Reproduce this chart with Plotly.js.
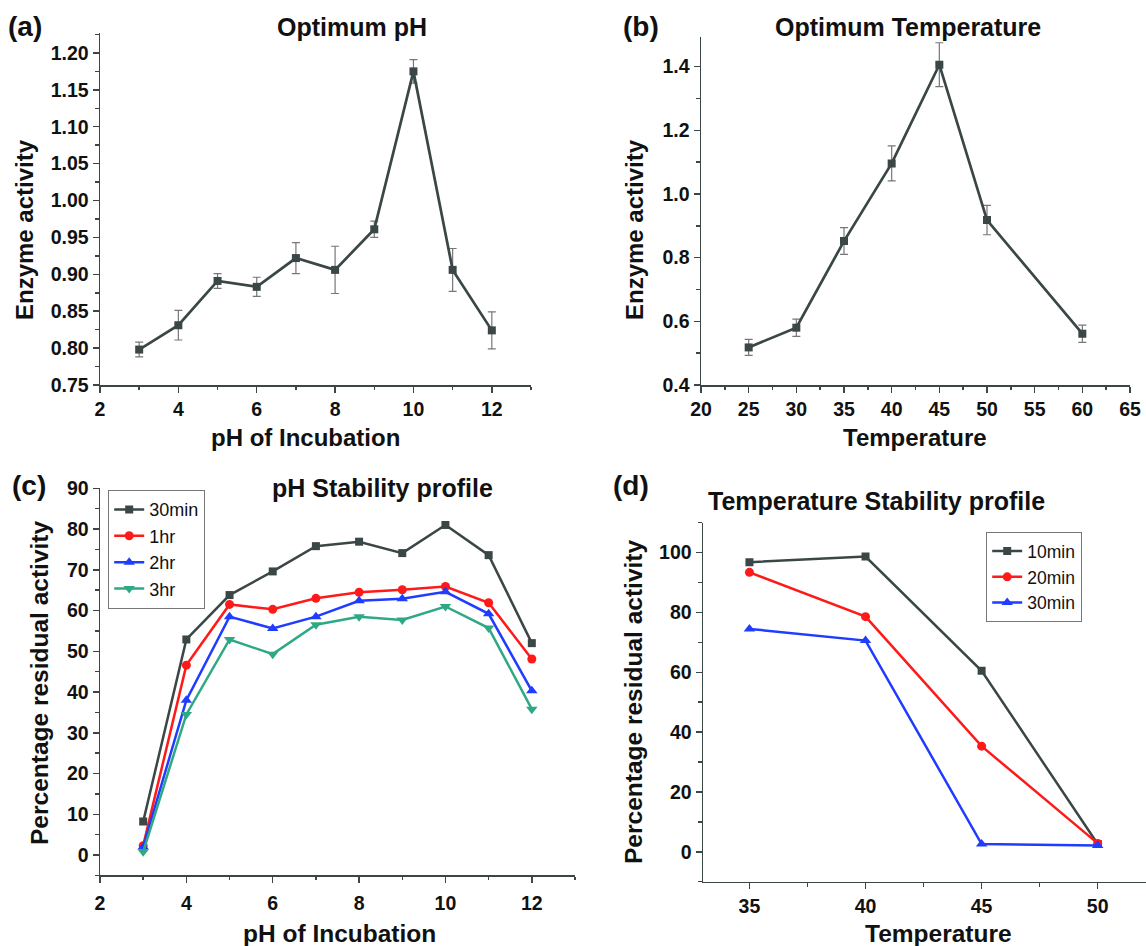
<!DOCTYPE html>
<html>
<head>
<meta charset="utf-8">
<script src="https://cdn.plot.ly/plotly-3.0.1.min.js"></script>
<style>html,body{margin:0;padding:0;background:#fff;}#chart{width:1146px;height:946px;}</style>
</head>
<body>
<div id="chart"></div>
<script>
// ---- Data ----
const phA = [3, 4, 5, 6, 7, 8, 9, 10, 11, 12];
const actA = [0.798, 0.831, 0.891, 0.883, 0.922, 0.906, 0.961, 1.175, 0.906, 0.824];
const errA = [0.010, 0.020, 0.010, 0.013, 0.021, 0.032, 0.011, 0.016, 0.029, 0.025];

const tempB = [25, 30, 35, 40, 45, 50, 60];
const actB = [0.518, 0.580, 0.852, 1.096, 1.406, 0.918, 0.561];
const errB = [0.025, 0.027, 0.042, 0.055, 0.069, 0.046, 0.027];

const phC = [3, 4, 5, 6, 7, 8, 9, 10, 11, 12];
const c30min = [8.2, 52.9, 63.8, 69.6, 75.8, 76.9, 74.1, 81.0, 73.6, 52.0];
const c1hr = [2.3, 46.6, 61.5, 60.3, 63.0, 64.5, 65.1, 65.9, 61.9, 48.1];
const c2hr = [2.0, 38.0, 58.5, 55.6, 58.5, 62.4, 62.9, 64.6, 59.2, 40.3];
const c3hr = [0.8, 34.5, 52.9, 49.3, 56.5, 58.5, 57.7, 61.0, 55.7, 35.8];
const seriesC = ['30min', '1hr', '2hr', '3hr'];

const tempD = [35, 40, 45, 50];
const d10min = [96.8, 98.7, 60.5, 2.6];
const d20min = [93.4, 78.6, 35.3, 2.8];
const d30min = [74.5, 70.6, 2.6, 2.1];
const seriesD = ['10min', '20min', '30min'];

// ---- Styles ----
const DARK = '#3b4646';
const RED = '#ff1a1a';
const BLUE = '#1f3cff';
const GREEN = '#2fa985';
const W = 1146, H = 946;
const px = v => v / W;
const py = v => 1 - v / H;

const traces = [
  {x: phA, y: actA, xaxis: 'x', yaxis: 'y', type: 'scatter', mode: 'lines+markers', showlegend: false,
   line: {color: DARK, width: 2.7}, marker: {symbol: 'square', size: 8, color: DARK},
   error_y: {type: 'data', array: errA, visible: true, color: '#777', thickness: 1.2, width: 4}},
  {x: tempB, y: actB, xaxis: 'x2', yaxis: 'y2', type: 'scatter', mode: 'lines+markers', showlegend: false,
   line: {color: DARK, width: 2.7}, marker: {symbol: 'square', size: 8, color: DARK},
   error_y: {type: 'data', array: errB, visible: true, color: '#777', thickness: 1.2, width: 4}},
  {x: phC, y: c30min, name: seriesC[0], xaxis: 'x3', yaxis: 'y3', legend: 'legend', mode: 'lines+markers',
   line: {color: DARK, width: 2.5}, marker: {symbol: 'square', size: 8, color: DARK}},
  {x: phC, y: c1hr, name: seriesC[1], xaxis: 'x3', yaxis: 'y3', legend: 'legend', mode: 'lines+markers',
   line: {color: RED, width: 2.5}, marker: {symbol: 'circle', size: 9, color: RED}},
  {x: phC, y: c2hr, name: seriesC[2], xaxis: 'x3', yaxis: 'y3', legend: 'legend', mode: 'lines+markers',
   line: {color: BLUE, width: 2.5}, marker: {symbol: 'triangle-up', size: 10, color: BLUE}},
  {x: phC, y: c3hr, name: seriesC[3], xaxis: 'x3', yaxis: 'y3', legend: 'legend', mode: 'lines+markers',
   line: {color: GREEN, width: 2.5}, marker: {symbol: 'triangle-down', size: 10, color: GREEN}},
  {x: tempD, y: d10min, name: seriesD[0], xaxis: 'x4', yaxis: 'y4', legend: 'legend2', mode: 'lines+markers',
   line: {color: DARK, width: 2.5}, marker: {symbol: 'square', size: 8, color: DARK}},
  {x: tempD, y: d20min, name: seriesD[1], xaxis: 'x4', yaxis: 'y4', legend: 'legend2', mode: 'lines+markers',
   line: {color: RED, width: 2.5}, marker: {symbol: 'circle', size: 9, color: RED}},
  {x: tempD, y: d30min, name: seriesD[2], xaxis: 'x4', yaxis: 'y4', legend: 'legend2', mode: 'lines+markers',
   line: {color: BLUE, width: 2.5}, marker: {symbol: 'triangle-up', size: 10, color: BLUE}}
];

function ax(extra) {
  return Object.assign({
    showline: true, linecolor: DARK, linewidth: 1.5, mirror: false,
    ticks: 'outside', ticklen: 6, tickwidth: 1.5, tickcolor: DARK,
    showgrid: false, zeroline: false, fixedrange: true,
    tickfont: {size: 19.5, weight: 'bold', color: '#111', family: 'Liberation Sans, Arial, sans-serif'}
  }, extra);
}
function minor(d) {
  return {ticks: 'outside', ticklen: 3.5, tickwidth: 1.5, tickcolor: DARK, dtick: d, showgrid: false};
}

const layout = {
  width: W, height: H,
  margin: {l: 0, r: 0, t: 0, b: 0},
  paper_bgcolor: '#fff', plot_bgcolor: '#fff',
  font: {family: 'Liberation Sans, Arial, sans-serif', color: '#111'},
  xaxis: ax({domain: [px(100), px(531)], range: [2, 13], tick0: 2, dtick: 2, minor: minor(1), anchor: 'y'}),
  yaxis: ax({domain: [py(385), py(33)], range: [0.75, 1.227], tick0: 0.75, dtick: 0.05, tickformat: '.2f', minor: minor(0.025), anchor: 'x'}),
  xaxis2: ax({domain: [px(701), px(1130)], range: [20, 65], tick0: 20, dtick: 5, minor: minor(2.5), anchor: 'y2'}),
  yaxis2: ax({domain: [py(385), py(36.7)], range: [0.4, 1.494], tick0: 0.4, dtick: 0.2, tickformat: '.1f', minor: minor(0.1), anchor: 'x2'}),
  xaxis3: ax({domain: [px(100), px(575)], range: [2, 13], tick0: 2, dtick: 2, minor: minor(1), anchor: 'y3', ticklabelstandoff: 4}),
  yaxis3: ax({domain: [py(875.4), py(488.3)], range: [-5, 90], tick0: 0, dtick: 10, minor: minor(5), anchor: 'x3'}),
  xaxis4: ax({domain: [px(703), 1], range: [33, 52.08], tick0: 35, dtick: 5, minor: minor(2.5), anchor: 'y4'}),
  yaxis4: ax({domain: [py(881.7), py(522.7)], range: [-10, 110], tick0: 0, dtick: 20, minor: minor(10), anchor: 'x4'}),
  legend: {x: px(108), y: py(490), xanchor: 'left', yanchor: 'top', bgcolor: '#fff',
           bordercolor: '#777', borderwidth: 1.2, font: {size: 18, color: '#111'}, tracegroupgap: 0},
  legend2: {x: px(986), y: py(532), xanchor: 'left', yanchor: 'top', bgcolor: '#fff',
           bordercolor: '#777', borderwidth: 1.2, font: {size: 17.5, color: '#111'}, tracegroupgap: 0},
  annotations: []
};

function txt(t, x, y, size, angle) {
  layout.annotations.push({text: t, x: px(x), y: py(y), xref: 'paper', yref: 'paper',
    xanchor: 'center', yanchor: 'middle', showarrow: false, textangle: angle || 0,
    font: {size: size, weight: 'bold', color: '#111'}});
}
// panel labels
txt('(a)', 25, 27, 28); txt('(b)', 641, 27, 28); txt('(c)', 29, 485, 28); txt('(d)', 631, 485, 28);
// titles
txt('Optimum pH', 352, 27, 25);
txt('Optimum Temperature', 908, 27, 25);
txt('pH Stability profile', 382, 488, 25);
txt('Temperature Stability profile', 876, 501, 25);
// axis titles
txt('pH of Incubation', 305, 437, 24);
txt('Enzyme activity', 25, 230, 24, -90);
txt('Temperature', 915, 437, 24);
txt('Enzyme activity', 635, 230, 24, -90);
txt('pH of Incubation', 339, 933, 24.5);
txt('Percentage residual activity', 39, 683, 24.5, -90);
txt('Temperature', 938, 933, 24.5);
txt('Percentage residual activity', 633, 702, 24.5, -90);

Plotly.newPlot('chart', traces, layout, {displayModeBar: false, staticPlot: true});
</script>
</body>
</html>
